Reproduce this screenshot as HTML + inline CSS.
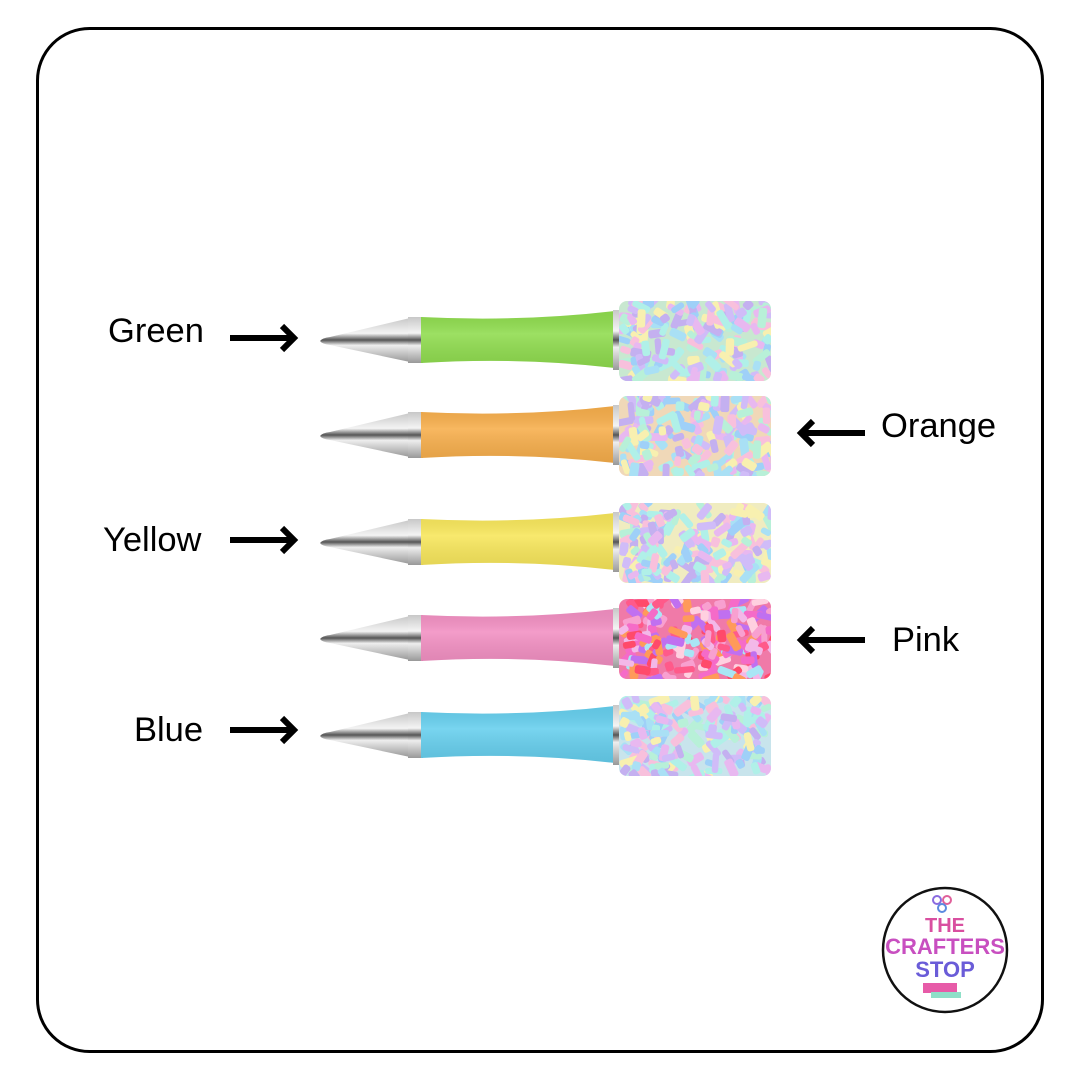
<!DOCTYPE html>
<html><head><meta charset="utf-8"><style>
html,body{margin:0;padding:0;background:#fff;width:1080px;height:1080px;overflow:hidden}
text{font-family:"Liberation Sans",sans-serif}
</style></head><body>
<svg id="s" width="1080" height="1080" viewBox="0 0 1080 1080" xmlns="http://www.w3.org/2000/svg">
<defs>
<linearGradient id="metal" x1="0" y1="0" x2="0" y2="1">
<stop offset="0" stop-color="#c8c8c8"/><stop offset="0.35" stop-color="#f4f4f4"/><stop offset="0.5" stop-color="#555"/><stop offset="0.62" stop-color="#eee"/><stop offset="1" stop-color="#999"/>
</linearGradient>
<linearGradient id="shade" x1="0" y1="0" x2="0" y2="1">
<stop offset="0" stop-color="#000" stop-opacity="0.05"/><stop offset="0.4" stop-color="#fff" stop-opacity="0.12"/><stop offset="1" stop-color="#000" stop-opacity="0.08"/>
</linearGradient>
<clipPath id="cp"><rect x="619" y="301" width="152" height="80" rx="8"/></clipPath>
</defs>
<rect x="37.5" y="28.5" width="1005" height="1023" rx="52" fill="#fff" stroke="#000" stroke-width="3"/>
<g id="pens"></g>
<g font-size="34.5" fill="#000">
<text x="108" y="342">Green</text>
<text x="881" y="437">Orange</text>
<text x="103" y="551">Yellow</text>
<text x="892" y="651">Pink</text>
<text x="134" y="741">Blue</text>
</g>
<g stroke="#000" stroke-width="6" fill="none" stroke-linejoin="miter">
<path d="M230 338H293M282 326L294 338L282 350"/>
<path d="M230 540H293M282 528L294 540L282 552"/>
<path d="M230 730H293M282 718L294 730L282 742"/>
<path d="M865 433H802M813 421L801 433L813 445"/>
<path d="M865 640H802M813 628L801 640L813 652"/>
</g>
<g transform="translate(945,950)">
<circle r="62" fill="#fff" stroke="#111" stroke-width="2.5"/>
<text x="0" y="-18" text-anchor="middle" font-size="20" font-weight="bold" fill="#d94fa0">THE</text>
<text x="0" y="4" text-anchor="middle" font-size="22" font-weight="bold" fill="#c84fc0">CRAFTERS</text>
<text x="0" y="27" text-anchor="middle" font-size="22" font-weight="bold" fill="#6a5cd8">STOP</text>
<rect x="-22" y="33" width="34" height="10" fill="#e75ba8"/>
<rect x="-14" y="42" width="30" height="6" fill="#8fe0c8"/>
<circle cx="-8" cy="-50" r="4" fill="none" stroke="#8a6be0" stroke-width="2"/>
<circle cx="2" cy="-50" r="4" fill="none" stroke="#e0609a" stroke-width="2"/>
<circle cx="-3" cy="-42" r="4" fill="none" stroke="#5b8ae0" stroke-width="2"/>
</g>
</svg>
<script>
var ns="http://www.w3.org/2000/svg",g=document.getElementById('pens');
var pens=[[338,"#8fdc4e","#c8e8d0"],[433,"#f7ae4b","#f0d8b8"],[540,"#f7e65a","#f0ecc0"],[636,"#f28fc2","#f07aa8"],[733,"#66cfee","#c8e4ec"]];
var cols=["#e8b8f0","#a9e0f5","#c4b0f0","#b8f0d8","#f8f0b0","#9fd0f8","#f8c0dc","#d0bcf8","#b0f0e8"];
var pinkcols=["#ff5a8a","#f56bc8","#ff9a5a","#c070f0","#ff4a6a","#f8a0d0","#ffd0e0","#f3b8e8","#a9e6f5"];
var seed=7;function r(){seed=(seed*9301+49297)%233280;return seed/233280;}
function el(t,a,p){var e=document.createElementNS(ns,t);for(var k in a)e.setAttribute(k,a[k]);(p||g).appendChild(e);return e;}
pens.forEach(function(p,i){
 var y=p[0],c=p[1],gr=el('g',{transform:'translate(0,'+(y-338)+')'});
 el('path',{d:'M320 341 Q322 338 330 337 L410 318 L410 362 L330 345 Q322 344 320 341Z',fill:'url(#metal)'},gr);
 el('rect',{x:408,y:317,width:15,height:46,fill:'url(#metal)'},gr);
 el('path',{d:'M421 317 Q520 322 615 311 L615 368 Q520 357 421 363Z',fill:c},gr);
 el('path',{d:'M421 317 Q520 322 615 311 L615 368 Q520 357 421 363Z',fill:'url(#shade)'},gr);
 el('rect',{x:613,y:310,width:8,height:60,fill:'url(#metal)'},gr);
 var sg=el('g',{'clip-path':'url(#cp)'},gr);
 el('rect',{x:619,y:301,width:152,height:80,fill:p[2]},sg);
 var pal=i==3?pinkcols:cols;
 for(var k=0;k<170;k++){var x=616+r()*150,yy=298+r()*80,w=9+r()*12,h=6+r()*3;
  el('rect',{x:x,y:yy,width:w,height:h,rx:2.5,fill:pal[Math.floor(r()*pal.length)],transform:'rotate('+Math.floor(r()*180)+' '+(x+w/2)+' '+(yy+h/2)+')'},sg);}
});
</script>
</body></html>
